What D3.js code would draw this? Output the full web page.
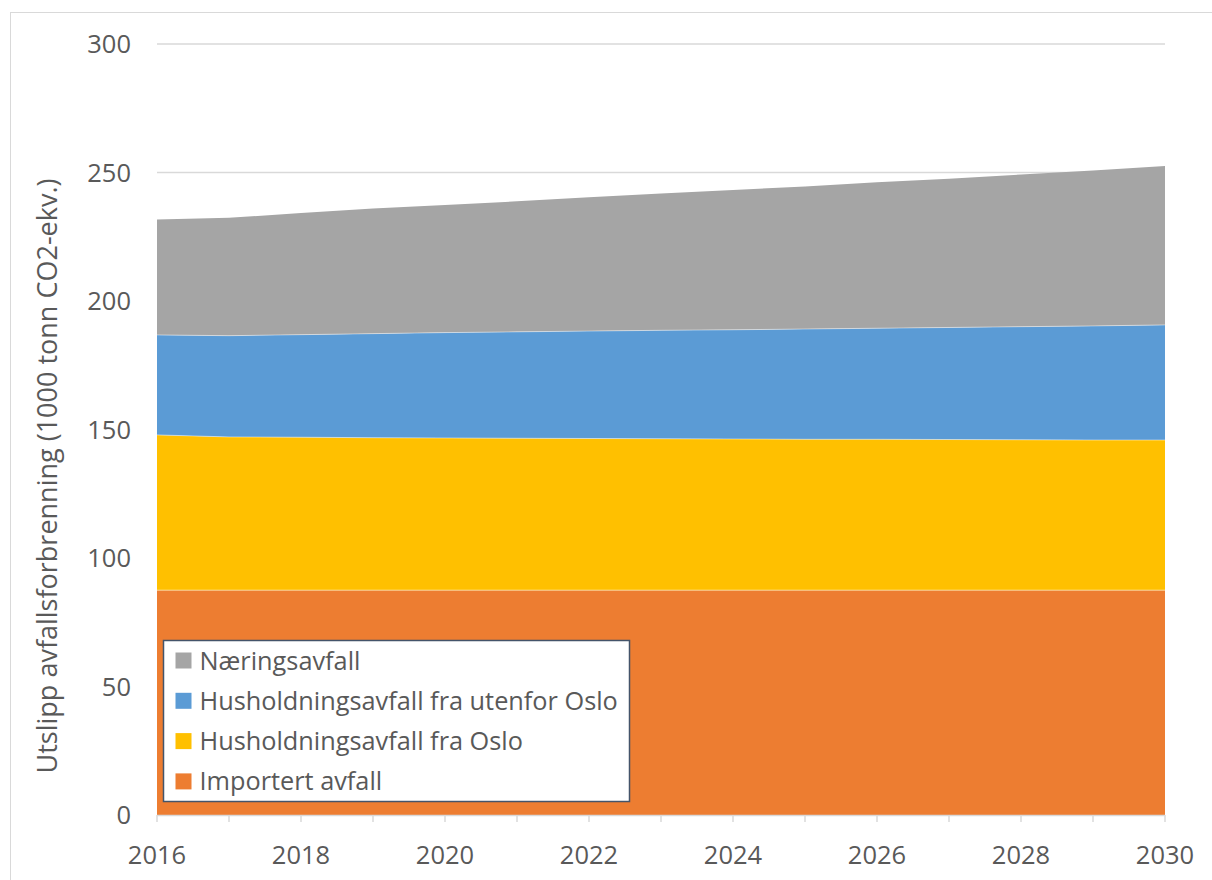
<!DOCTYPE html>
<html>
<head>
<meta charset="utf-8">
<script src="https://cdn.jsdelivr.net/npm/d3@7"></script>
<style>
  body { margin: 0; background: #fff; }
  svg text { font-family: "Open Sans", sans-serif; fill: #595959; }
</style>
</head>
<body>
<div id="chart"></div>
<script>
const years = [2016, 2017, 2018, 2019, 2020, 2021, 2022, 2023, 2024, 2025, 2026, 2027, 2028, 2029, 2030]
// stacked from the bottom
const importert = [87.5, 87.5, 87.5, 87.5, 87.5, 87.5, 87.5, 87.5, 87.5, 87.5, 87.5, 87.5, 87.5, 87.5, 87.5]
const oslo = [60.4, 59.6, 59.5, 59.3, 59.2, 59.1, 59.0, 58.9, 58.8, 58.7, 58.7, 58.6, 58.5, 58.4, 58.4]
const utenfor = [38.9, 39.4, 39.9, 40.5, 41.0, 41.4, 41.8, 42.2, 42.5, 42.9, 43.2, 43.6, 44.0, 44.4, 44.8]
const naering = [44.9, 45.9, 47.3, 48.7, 49.7, 50.8, 52.1, 53.2, 54.4, 55.5, 56.8, 57.9, 59.2, 60.5, 61.8]
const seriesNames = ["Importert avfall", "Husholdningsavfall fra Oslo", "Husholdningsavfall fra utenfor Oslo", "Næringsavfall"]
const seriesColors = ["#ed7d31", "#ffc000", "#5b9bd5", "#a5a5a5"]
const yTicks = [0, 50, 100, 150, 200, 250, 300]
const xTicks = [2016, 2018, 2020, 2022, 2024, 2026, 2028, 2030]
const yTitle = "Utslipp avfallsforbrenning (1000 tonn CO2-ekv.)"

const W = 1212, H = 880
const plotL = 157, plotR = 1165, plotT = 44, plotB = 815

const svg = d3.select("#chart").append("svg")
    .attr("width", W)
    .attr("height", H)

// outer frame
svg.append("rect")
    .attr("x", 10.5).attr("y", 12.5)
    .attr("width", W + 10).attr("height", H + 10)
    .attr("fill", "none")
    .attr("stroke", "#d9d9d9")
    .attr("stroke-width", 1)

const x = d3.scaleLinear().domain([2016, 2030]).range([plotL, plotR])
const y = d3.scaleLinear().domain([0, 300]).range([plotB, plotT])

// gridlines
svg.append("g")
    .selectAll("line")
    .data(yTicks.slice(1))
    .enter()
    .append("line")
    .attr("x1", plotL).attr("x2", plotR)
    .attr("y1", d => y(d)).attr("y2", d => y(d))
    .attr("stroke", "#d9d9d9")
    .attr("stroke-width", 1.5)

const table = years.map((yr, i) => ({
    year: yr, s0: importert[i], s1: oslo[i], s2: utenfor[i], s3: naering[i]
}))
const stacked = d3.stack().keys(["s0", "s1", "s2", "s3"])(table)

const area = d3.area()
    .x(d => x(d.data.year))
    .y0(d => y(d[0]))
    .y1(d => y(d[1]))

svg.append("g")
    .selectAll("path")
    .data(stacked)
    .enter()
    .append("path")
    .attr("d", area)
    .attr("fill", (_d, i) => seriesColors[i])

const topLine = d3.line()
    .x(d => x(d.data.year))
    .y(d => y(d[1]))

svg.append("g")
    .selectAll("path")
    .data(stacked.slice(0, 3))
    .enter()
    .append("path")
    .attr("d", topLine)
    .attr("fill", "none")
    .attr("stroke", "rgba(255,255,255,0.45)")
    .attr("stroke-width", 1)

// x axis line and ticks
svg.append("line")
    .attr("x1", plotL).attr("x2", plotR)
    .attr("y1", plotB + 0.5).attr("y2", plotB + 0.5)
    .attr("stroke", "#d9d9d9")
    .attr("stroke-width", 1.5)

svg.append("g")
    .selectAll("line")
    .data(years)
    .enter()
    .append("line")
    .attr("x1", d => x(d)).attr("x2", d => x(d))
    .attr("y1", plotB).attr("y2", plotB + 7)
    .attr("stroke", "#d9d9d9")
    .attr("stroke-width", 1.5)

svg.append("g")
    .selectAll("text")
    .data(xTicks)
    .enter()
    .append("text")
    .attr("x", d => x(d))
    .attr("y", 864)
    .attr("text-anchor", "middle")
    .attr("font-size", 25.5)
    .text(d => d)

svg.append("g")
    .selectAll("text")
    .data(yTicks)
    .enter()
    .append("text")
    .attr("x", 131)
    .attr("y", d => y(d) + 9)
    .attr("text-anchor", "end")
    .attr("font-size", 25.5)
    .text(d => d)

svg.append("text")
    .attr("transform", "translate(57, 476) rotate(-90)")
    .attr("text-anchor", "middle")
    .attr("font-size", 27)
    .text(yTitle)

// legend
const lg = svg.append("g").attr("transform", "translate(163.5, 640.5)")
lg.append("rect")
    .attr("width", 466).attr("height", 161)
    .attr("fill", "#fff")
    .attr("stroke", "#44546a")
    .attr("stroke-width", 1.5)

const legendOrder = [3, 2, 1, 0]
const items = lg.selectAll("g.item")
    .data(legendOrder)
    .enter()
    .append("g")
    .attr("class", "item")
    .attr("transform", (_d, i) => `translate(0, ${20 + i * 40.3})`)

items.append("rect")
    .attr("x", 12).attr("y", -8)
    .attr("width", 16).attr("height", 16)
    .attr("fill", d => seriesColors[d])

items.append("text")
    .attr("x", 36)
    .attr("y", 9)
    .attr("font-size", 25.3)
    .text(d => seriesNames[d])
</script>
</body>
</html>
